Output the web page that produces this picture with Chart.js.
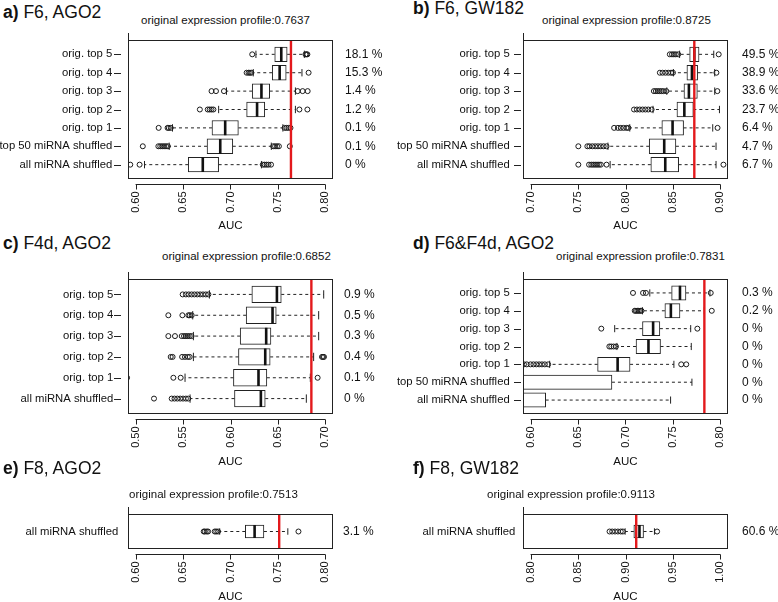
<!DOCTYPE html>
<html>
<head>
<meta charset="utf-8">
<script src="https://cdn.jsdelivr.net/npm/chart.js@4.4.1/dist/chart.umd.min.js"></script>
<style>
  body { margin: 0; background: #fff; }
  #fig { position: relative; width: 778px; height: 602px; overflow: hidden;
         font-family: "Liberation Sans", Arial, Helvetica, sans-serif; color: #111; }
  #fig canvas { position: absolute; }
  .txt { position: absolute; white-space: nowrap; line-height: 1; }
</style>
</head>
<body>
<div id="fig"></div>
<script>
// row labels, bottom row first
var rows7 = ['all miRNA shuffled', 'top 50 miRNA shuffled', 'orig. top 1', 'orig. top 2',
             'orig. top 3', 'orig. top 4', 'orig. top 5'];
var rows6 = ['all miRNA shuffled', 'orig. top 1', 'orig. top 2', 'orig. top 3',
             'orig. top 4', 'orig. top 5'];
var rows1 = ['all miRNA shuffled'];

// a) F6, AGO2
var aLo  = [0.6094, 0.6354, 0.6389, 0.6875, 0.6958, 0.7240, 0.7268];
var aQ1  = [0.6555, 0.6753, 0.6805, 0.7170, 0.7229, 0.7440, 0.7466];
var aMed = [0.6708, 0.6892, 0.6944, 0.7280, 0.7326, 0.7518, 0.7535];
var aQ3  = [0.6875, 0.7024, 0.7083, 0.7361, 0.7413, 0.7587, 0.7597];
var aHi  = [0.7326, 0.7430, 0.7552, 0.7684, 0.7684, 0.7753, 0.7778];
var aOut = [
  [0.5944, 0.6042, 0.7340, 0.7360, 0.7380, 0.7400, 0.7427],
  [0.6076, 0.6240, 0.6260, 0.6280, 0.6300, 0.6320, 0.6340, 0.7450, 0.7470, 0.7490, 0.7510, 0.7625],
  [0.6243, 0.6337, 0.6350, 0.6370, 0.7570, 0.7590, 0.7610, 0.7632],
  [0.6677, 0.6760, 0.6780, 0.6800, 0.6820, 0.7726, 0.7810],
  [0.6800, 0.6847, 0.6931, 0.7708, 0.7760, 0.7813],
  [0.7170, 0.7190, 0.7205, 0.7220, 0.7823],
  [0.7229, 0.7790, 0.7800, 0.7810]
];
var aPct = ['0 %', '0.1 %', '0.1 %', '1.2 %', '1.4 %', '15.3 %', '18.1 %'];
var aOrig = 0.7637;
var aTicks = [0.60, 0.65, 0.70, 0.75, 0.80];

// b) F6, GW182
var bLo  = [0.7838, 0.7815, 0.8045, 0.8290, 0.8435, 0.8505, 0.8570];
var bQ1  = [0.8267, 0.8250, 0.8383, 0.8542, 0.8616, 0.8647, 0.8676];
var bMed = [0.8419, 0.8408, 0.8496, 0.8620, 0.8668, 0.8700, 0.8725];
var bQ3  = [0.8560, 0.8531, 0.8612, 0.8715, 0.8757, 0.8760, 0.8775];
var bHi  = [0.8954, 0.8954, 0.8919, 0.8990, 0.8940, 0.8940, 0.8930];
var bOut = [
  [0.7503, 0.7616, 0.7640, 0.7660, 0.7680, 0.7700, 0.7720, 0.7740, 0.7800, 0.9032],
  [0.7503, 0.7598, 0.7620, 0.7650, 0.7680, 0.7710, 0.7740, 0.7770, 0.7800],
  [0.7880, 0.7920, 0.7950, 0.7980, 0.8010, 0.8030, 0.8970],
  [0.8090, 0.8120, 0.8150, 0.8180, 0.8210, 0.8240, 0.8275],
  [0.8299, 0.8320, 0.8340, 0.8360, 0.8380, 0.8400, 0.8430, 0.8968],
  [0.8362, 0.8390, 0.8420, 0.8450, 0.8480, 0.8500, 0.8958],
  [0.8467, 0.8490, 0.8510, 0.8530, 0.8555, 0.8982]
];
var bPct = ['6.7 %', '4.7 %', '6.4 %', '23.7 %', '33.6 %', '38.9 %', '49.5 %'];
var bOrig = 0.8725;
var bTicks = [0.70, 0.75, 0.80, 0.85, 0.90];

// c) F4d, AGO2
var cLo  = [0.5574, 0.5521, 0.5609, 0.5609, 0.5602, 0.5778];
var cQ1  = [0.6042, 0.6031, 0.6084, 0.6102, 0.6165, 0.6225];
var cMed = [0.6320, 0.6295, 0.6366, 0.6376, 0.6443, 0.6489];
var cQ3  = [0.6366, 0.6383, 0.6418, 0.6426, 0.6482, 0.6535];
var cHi  = [0.6799, 0.6841, 0.6876, 0.6929, 0.6929, 0.6982];
var cOut = [
  [0.5194, 0.5380, 0.5410, 0.5440, 0.5470, 0.5500, 0.5530, 0.5555],
  [0.4910, 0.5398, 0.5475, 0.6918],
  [0.5370, 0.5390, 0.5490, 0.5520, 0.5550, 0.5570, 0.6964, 0.6975, 0.6985],
  [0.5345, 0.5415, 0.5486, 0.5510, 0.5530, 0.5550, 0.5570, 0.5590],
  [0.5345, 0.5493, 0.5556, 0.5570, 0.5591],
  [0.5496, 0.5530, 0.5560, 0.5590, 0.5620, 0.5650, 0.5680, 0.5710, 0.5740, 0.5767]
];
var cPct = ['0 %', '0.1 %', '0.4 %', '0.3 %', '0.5 %', '0.9 %'];
var cOrig = 0.6852;
var cTicks = [0.50, 0.55, 0.60, 0.65, 0.70];

// d) F6&F4d, AGO2 (lowest two rows run off the left edge)
var dLo  = [0.4500, 0.5000, 0.6201, 0.6910, 0.6886, 0.7179, 0.7256];
var dQ1  = [0.5000, 0.5400, 0.6706, 0.7111, 0.7179, 0.7415, 0.7486];
var dMed = [0.5500, 0.5800, 0.6917, 0.7242, 0.7291, 0.7478, 0.7574];
var dQ3  = [0.6159, 0.6857, 0.7048, 0.7369, 0.7362, 0.7574, 0.7637];
var dHi  = [0.7475, 0.7700, 0.7510, 0.7693, 0.7687, 0.7830, 0.7890];
var dOut = [
  [],
  [],
  [0.5930, 0.5960, 0.6000, 0.6030, 0.6060, 0.6090, 0.6120, 0.6150, 0.6185, 0.7587, 0.7640],
  [0.6830, 0.6850, 0.6875, 0.6900],
  [0.6745, 0.7757],
  [0.7097, 0.7110, 0.7125, 0.7140, 0.7155, 0.7168, 0.7909],
  [0.7079, 0.7185, 0.7215, 0.7898]
];
var dPct = ['0 %', '0 %', '0 %', '0 %', '0 %', '0.2 %', '0.3 %'];
var dOrig = 0.7831;
var dTicks = [0.60, 0.65, 0.70, 0.75, 0.80];

// e) F8, AGO2
var eLo = [0.6886], eQ1 = [0.7156], eMed = [0.7254], eQ3 = [0.7352], eHi = [0.7604];
var eOut = [[0.6718, 0.6730, 0.6750, 0.6764, 0.6834, 0.6850, 0.6869, 0.7716]];
var ePct = ['3.1 %'];
var eOrig = 0.7513;
var eTicks = [0.60, 0.65, 0.70, 0.75, 0.80];

// f) F8, GW182
var fLo = [0.8996], fQ1 = [0.9088], fMed = [0.9147], fQ3 = [0.9190], fHi = [0.9305];
var fOut = [[0.8832, 0.8860, 0.8890, 0.8920, 0.8950, 0.8972, 0.9333]];
var fPct = ['60.6 %'];
var fOrig = 0.9113;
var fTicks = [0.80, 0.85, 0.90, 0.95, 1.00];

var panels = [
  { tag: 'a)', name: 'F6, AGO2', rows: rows7, lo: aLo, q1: aQ1, med: aMed, q3: aQ3, hi: aHi, out: aOut,
    pct: aPct, orig: aOrig, ticks: aTicks, col: 0, top: 40, bottom: 179, left: 128, right: 333,
    labY: 19.3, ttlX: 141, ttlY: 24.7, aucY: 226, labPad: 15.7, pctPad: 12, yGap: 7, wex: 0.8 },
  { tag: 'b)', name: 'F6, GW182', rows: rows7, lo: bLo, q1: bQ1, med: bMed, q3: bQ3, hi: bHi, out: bOut,
    pct: bPct, orig: bOrig, ticks: bTicks, col: 1, top: 40, bottom: 179, left: 523, right: 728,
    labY: 15.3, ttlX: 542, ttlY: 24.7, aucY: 226, labPad: 13.3, pctPad: 14, yGap: 2, wex: 0.8 },
  { tag: 'c)', name: 'F4d, AGO2', rows: rows6, lo: cLo, q1: cQ1, med: cMed, q3: cQ3, hi: cHi, out: cOut,
    pct: cPct, orig: cOrig, ticks: cTicks, col: 0, top: 279, bottom: 414, left: 128, right: 333,
    labY: 250, ttlX: 162, ttlY: 260.5, aucY: 462, labPad: 14.7, pctPad: 11, yGap: 7, wex: 0.8 },
  { tag: 'd)', name: 'F6&F4d, AGO2', rows: rows7, lo: dLo, q1: dQ1, med: dMed, q3: dQ3, hi: dHi, out: dOut,
    pct: dPct, orig: dOrig, ticks: dTicks, col: 1, top: 279, bottom: 414, left: 523, right: 728,
    labY: 250, ttlX: 556, ttlY: 260.5, aucY: 462, labPad: 13.3, pctPad: 14, yGap: 2, wex: 0.8 },
  { tag: 'e)', name: 'F8, AGO2', rows: rows1, lo: eLo, q1: eQ1, med: eMed, q3: eQ3, hi: eHi, out: eOut,
    pct: ePct, orig: eOrig, ticks: eTicks, col: 0, top: 514, bottom: 549, left: 128, right: 333,
    labY: 475, ttlX: 129, ttlY: 498.5, aucY: 597, labPad: 9.7, pctPad: 10, yGap: null, wex: 0.4 },
  { tag: 'f)', name: 'F8, GW182', rows: rows1, lo: fLo, q1: fQ1, med: fMed, q3: fQ3, hi: fHi, out: fOut,
    pct: fPct, orig: fOrig, ticks: fTicks, col: 1, top: 514, bottom: 549, left: 523, right: 728,
    labY: 475, ttlX: 487, ttlY: 498.5, aucY: 597, labPad: 7.7, pctPad: 14, yGap: null, wex: 0.4 }
];

Chart.defaults.font.family = '"Liberation Sans", Arial, Helvetica, sans-serif';
Chart.defaults.color = '#111';
Chart.defaults.animation = false;

var INK = '#222';
var fig = document.getElementById('fig');

// R style frame, offset bottom axis and left tick marks
var rFrame = {
  id: 'rFrame',
  afterDatasetsDraw: function (chart, args, opts) {
    var a = chart.chartArea, ctx = chart.ctx, x = chart.scales.x, y = chart.scales.y;
    ctx.save();
    ctx.strokeStyle = INK;
    ctx.lineWidth = 1;
    ctx.strokeRect(Math.round(a.left) + 0.5, Math.round(a.top) + 0.5,
                   Math.round(a.right - a.left) - 1, Math.round(a.bottom - a.top) - 1);
    var t = x.ticks;
    var ay = Math.round(a.bottom + opts.axisGap) + 0.5;
    ctx.beginPath();
    ctx.moveTo(x.getPixelForValue(t[0].value), ay);
    ctx.lineTo(x.getPixelForValue(t[t.length - 1].value), ay);
    t.forEach(function (tk) {
      var px = Math.round(x.getPixelForValue(tk.value)) + 0.5;
      ctx.moveTo(px, ay);
      ctx.lineTo(px, ay + opts.tick);
    });
    if (opts.yGap !== null) {
      y.ticks.forEach(function (tk) {
        var py = Math.round(y.getPixelForValue(tk.value)) + 0.5;
        ctx.moveTo(a.left - opts.yGap - 7, py);
        ctx.lineTo(a.left - opts.yGap, py);
      });
    }
    ctx.stroke();
    ctx.restore();
  }
};

function segs(list) {
  var d = [];
  list.forEach(function (s) {
    d.push({ x: s[0], y: s[1] }, { x: s[2], y: s[3] }, { x: null, y: null });
  });
  return d;
}

function addText(html, left, baseline, size) {
  var el = document.createElement('div');
  el.className = 'txt';
  el.style.left = left + 'px';
  el.style.top = (baseline - 0.8465 * size) + 'px';
  el.style.fontSize = size + 'px';
  el.innerHTML = html;
  fig.appendChild(el);
}

function noPad(s) {
  s.paddingTop = 0; s.paddingBottom = 0; s.paddingLeft = 0; s.paddingRight = 0;
}

function build(p) {
  var n = p.rows.length;
  var yMin = 0.5 - 0.04 * n, yMax = n + 0.5 + 0.04 * n;
  var span = p.ticks[p.ticks.length - 1] - p.ticks[0];
  var xMin = p.ticks[0] - 0.04 * span, xMax = p.ticks[p.ticks.length - 1] + 0.04 * span;

  var cx = p.col ? 389 : 0, cw = 389, cy = p.top - 10;
  var ch = Math.round(p.aucY + 6.9 - cy);
  var canvas = document.createElement('canvas');
  canvas.width = cw;
  canvas.height = ch;
  canvas.style.left = cx + 'px';
  canvas.style.top = cy + 'px';
  fig.appendChild(canvas);

  var h = p.wex / 2;
  var ppu = (p.bottom - p.top) / (yMax - yMin);

  var medSegs = [], whisk = [], staples = [], outPts = [];
  p.rows.forEach(function (r, i) {
    var yy = i + 1;
    medSegs.push([p.med[i], yy - h, p.med[i], yy + h]);
    whisk.push([p.q1[i], yy, p.lo[i], yy], [p.q3[i], yy, p.hi[i], yy]);
    staples.push([p.lo[i], yy - h / 2, p.lo[i], yy + h / 2], [p.hi[i], yy - h / 2, p.hi[i], yy + h / 2]);
    p.out[i].forEach(function (v) { outPts.push({ x: v, y: yy }); });
  });

  var line = function (data, color, width, dash) {
    return { type: 'line', data: data, borderColor: color, borderWidth: width, borderDash: dash || [],
             pointRadius: 0, pointHitRadius: 0, spanGaps: false, fill: false, clip: 0 };
  };

  new Chart(canvas, {
    type: 'bar',
    data: {
      datasets: [
        line([{ x: p.orig, y: yMin }, { x: p.orig, y: yMax }], '#e3191c', 2.4),
        { type: 'scatter', data: outPts, pointStyle: 'circle', pointRadius: 2.5,
          pointBorderColor: '#1a1a1a', pointBackgroundColor: 'rgba(0,0,0,0)', pointBorderWidth: 1, clip: 0 },
        line(segs(medSegs), '#111', 2.6),
        { type: 'bar', indexAxis: 'y',
          data: p.rows.map(function (r, i) { return { y: i + 1, x: [p.q1[i], p.q3[i]] }; }),
          backgroundColor: '#fff', borderColor: INK, borderWidth: 1, borderSkipped: false,
          barThickness: p.wex * ppu, clip: 0 },
        line(segs(staples), INK, 1),
        line(segs(whisk), INK, 1, [3, 3])
      ]
    },
    options: {
      responsive: false,
      devicePixelRatio: 1,
      events: [],
      layout: { padding: { top: 3, left: 0, right: 0, bottom: 0 } },
      plugins: {
        legend: { display: false },
        tooltip: { enabled: false },
        rFrame: { axisGap: 5, tick: 5, yGap: p.yGap }
      },
      scales: {
        x: {
          type: 'linear', position: 'bottom', min: xMin, max: xMax, offset: false,
          afterBuildTicks: function (s) { s.ticks = p.ticks.map(function (v) { return { value: v }; }); },
          afterFit: function (s) { s.height = ch - (p.bottom - cy); noPad(s); },
          grid: { display: false, drawTicks: false },
          border: { display: false },
          ticks: { minRotation: 90, maxRotation: 90, padding: 12.4, autoSkip: false,
                    font: { size: 11 }, color: '#111',
                    callback: function (v) { return v.toFixed(2); } },
          title: { display: true, text: 'AUC', font: { size: 11.5 }, color: '#111',
                   padding: { top: 0, bottom: 0 } }
        },
        x2: {
          type: 'linear', position: 'top', min: xMin, max: xMax, offset: false,
          afterBuildTicks: function (s) { s.ticks = [{ value: p.orig }]; },
          afterFit: function (s) { s.height = 7; noPad(s); },
          grid: { display: true, drawOnChartArea: false, drawTicks: true, tickLength: 7,
                  color: INK, lineWidth: 1 },
          border: { display: false },
          ticks: { display: false }
        },
        y: {
          type: 'linear', position: 'left', min: yMin, max: yMax, offset: false,
          afterBuildTicks: function (s) { s.ticks = p.rows.map(function (r, i) { return { value: i + 1 }; }); },
          afterFit: function (s) { s.width = p.left - cx; noPad(s); },
          grid: { display: false, drawTicks: false },
          border: { display: false },
          ticks: { padding: p.labPad, autoSkip: false, font: { size: 11.3 }, color: '#111',
                   callback: function (v) { return p.rows[Math.round(v) - 1]; } }
        },
        y2: {
          type: 'linear', position: 'right', min: yMin, max: yMax, offset: false,
          afterBuildTicks: function (s) { s.ticks = p.rows.map(function (r, i) { return { value: i + 1 }; }); },
          afterFit: function (s) { s.width = cx + cw - p.right; noPad(s); },
          grid: { display: false, drawTicks: false },
          border: { display: false },
          ticks: { padding: p.pctPad, autoSkip: false, font: { size: 12 }, color: '#111',
                   callback: function (v) { return p.pct[Math.round(v) - 1]; } }
        }
      }
    },
    plugins: [rFrame]
  });

  addText('<b>' + p.tag + '</b> ' + p.name, p.col ? 413 : 3, p.labY, 17.5);
  addText('original expression profile:' + p.orig.toFixed(4), p.ttlX, p.ttlY, 11.5);
}

panels.forEach(build);
</script>
</body>
</html>
